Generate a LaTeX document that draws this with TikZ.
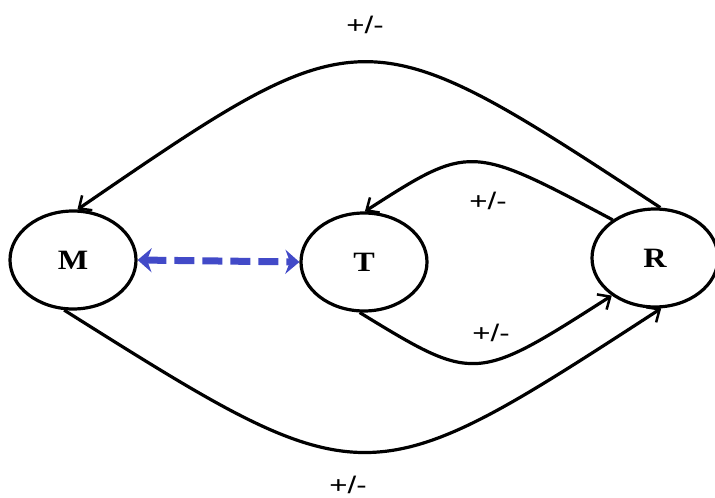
\documentclass[tikz,border=0pt]{standalone}
\usepackage{fontspec}
\setmainfont{Liberation Serif}
\newfontfamily\labelfont{Liberation Sans}
\usetikzlibrary{shapes.geometric,arrows.meta}
\definecolor{linkblue}{RGB}{66,74,200}
\tikzset{
  statenode/.style={ellipse,draw,line width=3.2pt,minimum width=126pt,minimum height=98pt,
    inner sep=0pt,font=\fontsize{28}{30}\selectfont\bfseries},
  signlabel/.style={font=\labelfont\fontsize{24}{26}\selectfont,inner sep=0pt,xscale=1.3},
  feedback/.style={line width=3.2pt,-{Straight Barb[length=10pt,width=18pt,line width=2.5pt]}}
}
\begin{document}
\begin{tikzpicture}[x=1pt,y=-1pt,line join=round]
  % Match the original artwork frame.
  \useasboundingbox (0,0) rectangle (715,498);

  % The three states.
  \node[statenode] (M) at (73,260) {\scalebox{1.15}[1]{M}};
  \node[statenode] (T) at (364,262) {\scalebox{1.15}[1]{T}};
  \node[statenode] (R) at (655,258) {\scalebox{1.15}[1]{R}};

  % Control points of the four loops.
  \coordinate (topouter) at (364,13);
  \coordinate (topinner) at (470,144);
  \coordinate (botinner) at (475,383);
  \coordinate (botouter) at (366,500);

  % Loops back from R, then forward to R.
  \draw[feedback] (R.84) .. controls (topouter) and (topouter) .. (M.85);
  \draw[feedback] (R.138) .. controls (topinner) and (topinner) .. (T.89);
  \draw[feedback] (T.265) .. controls (botinner) and (botinner) .. (R.221);
  \draw[feedback] (M.260) .. controls (botouter) and (botouter) .. (R.277);

  % Two-way link between M and T.
  \draw[linkblue,line width=7pt,dash pattern=on 20pt off 8pt,
    {Stealth[length=14pt,width=24pt]}-{Stealth[length=14pt,width=24pt]}] (M.east) -- (T.west);

  % Sign labels.
  \node[signlabel] (ltop) at (365,25) {+/-};
  \node[signlabel] (lupper) at (488,201) {+/-};
  \node[signlabel] (llower) at (491,333) {+/-};
  \node[signlabel] (lbot) at (348,485) {+/-};
\end{tikzpicture}
\end{document}
